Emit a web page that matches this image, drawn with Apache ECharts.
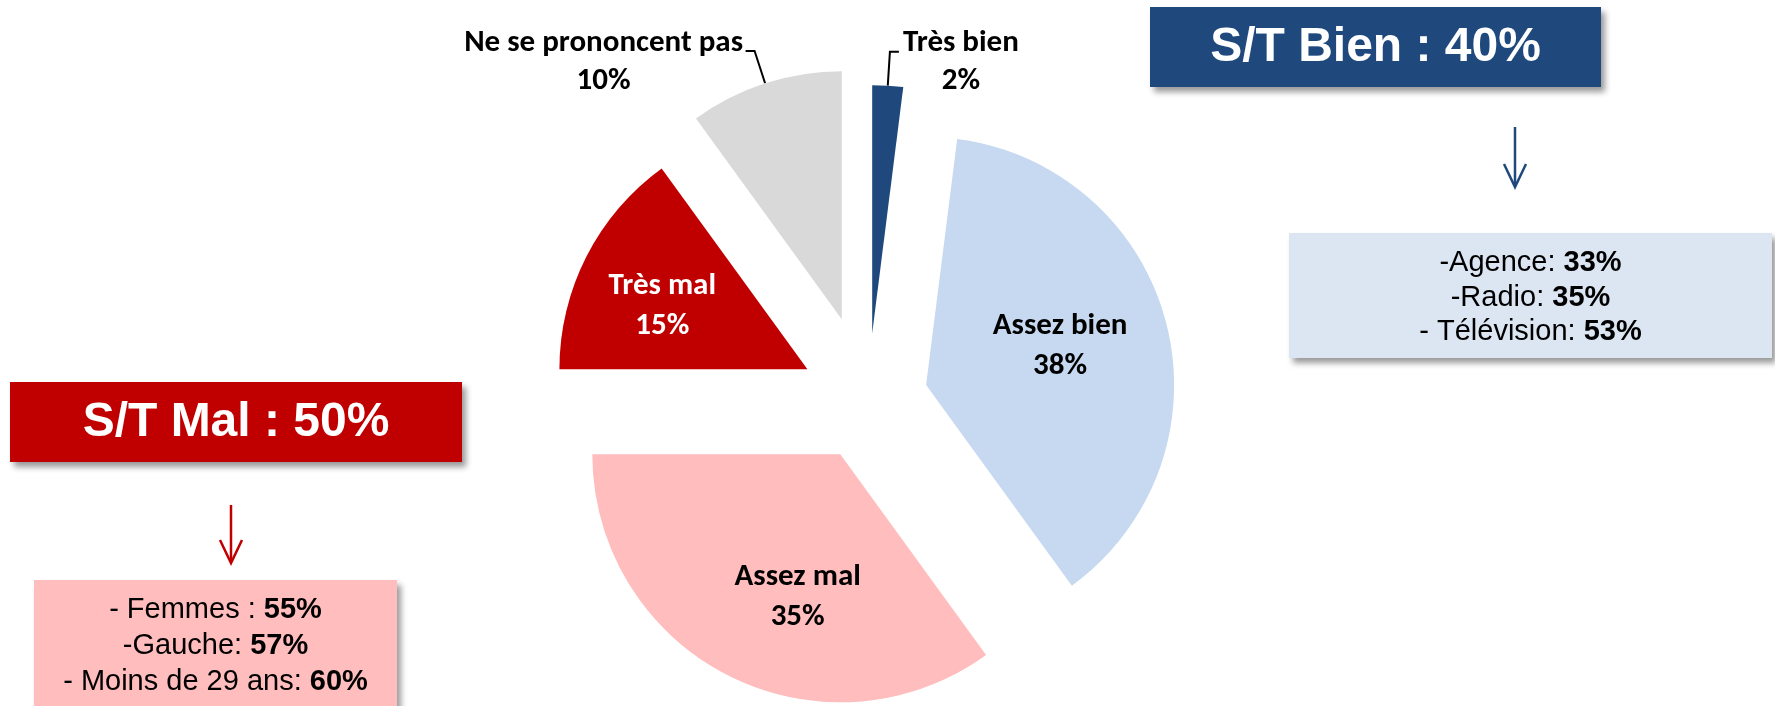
<!DOCTYPE html>
<html>
<head>
<meta charset="utf-8">
<title>Jugement</title>
<script src="https://cdn.jsdelivr.net/npm/echarts@6.0.0/dist/echarts.min.js"></script>
<style>
  html, body { margin: 0; padding: 0; background: #fff; }
  #chart { width: 1775px; height: 706px; }
</style>
</head>
<body>
<div id="chart"></div>
<script>
// answers, clockwise from 12 o'clock
const categories = ['Très bien', 'Assez bien', 'Assez mal', 'Très mal', 'Ne se prononcent pas'];
const values = [2, 38, 35, 15, 10];

// sub-totals and their breakdowns
const stBien = 40;
const stMal = 50;
const bienLabels = ['-Agence: ', '-Radio: ', '- Télévision: '];
const bienValues = [33, 35, 53];
const malLabels = ['- Femmes : ', '-Gauche: ', '- Moins de 29 ans: '];
const malValues = [55, 57, 60];

// styling
const sliceColors = ['#1F497D', '#C6D9F1', '#FFBDBD', '#C00000', '#D9D9D9'];
const labelColors = ['#000', '#000', '#000', '#fff', '#000'];
const outside = [true, false, false, false, true];
const explode = [67, 60, 61, 68, 85];
const labelShift = [null, [11, -7], [15, 30], [-32, -5], null];
const outWidth = [118, 0, 0, 0, 278];
const pieFont = "Carlito, 'Liberation Sans Narrow', 'Liberation Sans', sans-serif";
const boxFont = "'Liberation Sans', Arial, sans-serif";
const pieCenter = [868, 400];
const pieRadius = 248;

const chart = echarts.init(document.getElementById('chart'), null, { renderer: 'canvas' });

const total = values.reduce((a, b) => a + b, 0);
let acc = 0;
const series = values.map(function (v, i) {
  // each slice is its own pie, pushed out along its bisector
  const mid = (acc + v / 2) / total * 2 * Math.PI;
  acc += v;
  const cx = pieCenter[0] + explode[i] * Math.sin(mid);
  const cy = pieCenter[1] - explode[i] * Math.cos(mid);
  let label;
  if (outside[i]) {
    label = {
      show: true,
      position: 'outside',
      overflow: 'none',
      width: outWidth[i],
      padding: [22, 0, 0, 0],
      distanceToLabelLine: 3,
      formatter: '{t|{b}}\n{t|{c}%}',
      rich: {
        t: { align: 'center', fontSize: 31, fontWeight: 'bold', fontFamily: pieFont, color: labelColors[i], lineHeight: 38 }
      }
    };
  } else {
    label = {
      show: true,
      position: 'inside',
      formatter: '{b}\n{c}%',
      fontSize: 31,
      fontWeight: 'bold',
      fontFamily: pieFont,
      lineHeight: 40,
      color: labelColors[i]
    };
  }
  return {
    type: 'pie',
    center: [cx, cy],
    radius: pieRadius,
    startAngle: 90,
    clockwise: true,
    animation: false,
    silent: true,
    avoidLabelOverlap: false,
    labelLayout: labelShift[i] ? { dx: labelShift[i][0], dy: labelShift[i][1] } : null,
    data: categories.map(function (name, j) {
      const on = j === i;
      return {
        name: name,
        value: values[j],
        itemStyle: { color: on ? sliceColors[j] : 'rgba(0,0,0,0)', borderWidth: 0 },
        label: on ? label : { show: false },
        labelLine: {
          show: on && outside[i],
          length: 34,
          length2: 9,
          smooth: false,
          lineStyle: { color: '#000', width: 2 }
        }
      };
    })
  };
});

const shadow = { shadowBlur: 6, shadowOffsetX: 4, shadowOffsetY: 5, shadowColor: 'rgba(0,0,0,0.4)' };

function header(x, y, w, h, fill, text) {
  return [
    { type: 'rect', shape: { x: x, y: y, width: w, height: h }, style: Object.assign({ fill: fill }, shadow) },
    {
      type: 'text', x: x + w / 2, y: y + h / 2 + 1,
      style: { text: text, fill: '#fff', fontSize: 48, fontWeight: 'bold', fontFamily: boxFont, align: 'center', verticalAlign: 'middle' }
    }
  ];
}

function arrow(x, y1, y2, color) {
  return [
    { type: 'line', shape: { x1: x, y1: y1, x2: x, y2: y2 - 2 }, style: { stroke: color, lineWidth: 2.5 } },
    { type: 'polyline', shape: { points: [[x - 11, y2 - 23], [x, y2], [x + 11, y2 - 23]] }, style: { stroke: color, lineWidth: 2.5, fill: null } }
  ];
}

function detailBox(x, y, w, h, fill, labels, vals, firstY, step) {
  const out = [{ type: 'rect', shape: { x: x, y: y, width: w, height: h }, style: Object.assign({ fill: fill }, shadow) }];
  labels.forEach(function (t, k) {
    out.push({
      type: 'text', x: x + w / 2, y: firstY + k * step,
      style: {
        text: t + '{b|' + vals[k] + '%}',
        fill: '#000', fontSize: 29, fontFamily: boxFont, align: 'center', verticalAlign: 'middle',
        rich: { b: { fontSize: 29, fontWeight: 'bold', fontFamily: boxFont, fill: '#000' } }
      }
    });
  });
  return out;
}

const graphics = [].concat(
  header(1150, 7, 451, 80, '#1F497D', 'S/T Bien : ' + stBien + '%'),
  arrow(1515, 127, 187, '#1F497D'),
  detailBox(1289, 233, 483, 125, '#DCE6F2', bienLabels, bienValues, 263, 34.5),
  header(10, 382, 452, 80, '#C00000', 'S/T Mal : ' + stMal + '%'),
  arrow(231, 505, 563, '#C00000'),
  detailBox(34, 580, 363, 140, '#FFBDBD', malLabels, malValues, 610, 36)
);

chart.setOption({
  backgroundColor: '#fff',
  animation: false,
  series: series,
  graphic: graphics
});
</script>
</body>
</html>
